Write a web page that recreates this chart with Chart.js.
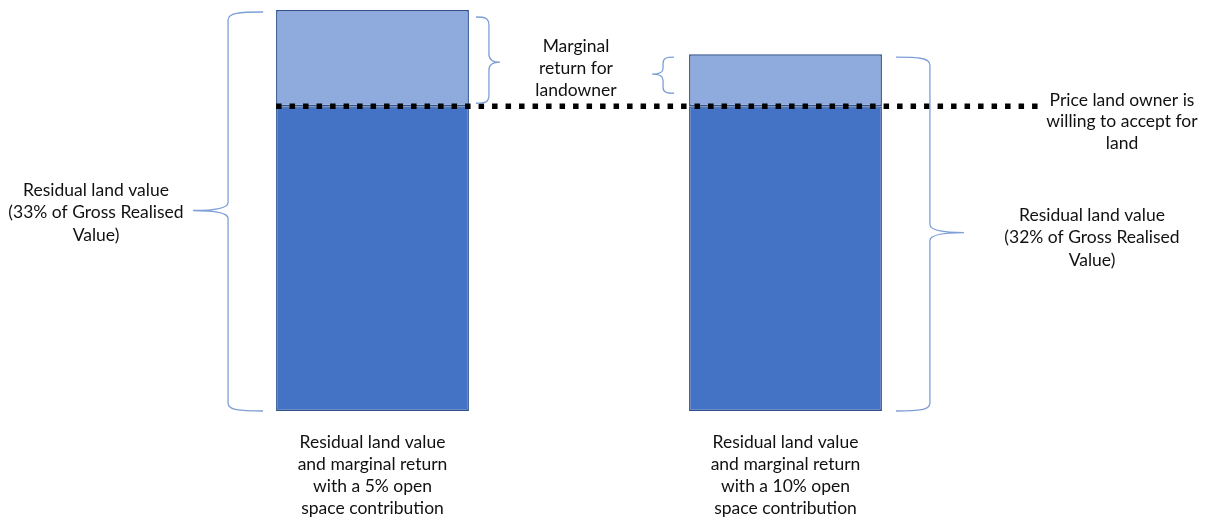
<!DOCTYPE html>
<html>
<head>
<meta charset="utf-8">
<script src="https://cdn.jsdelivr.net/npm/chart.js@4"></script>
<style>
  html, body { margin: 0; padding: 0; background: #fff; }
  #wrap { width: 1212px; height: 517px; }
</style>
</head>
<body>
<div id="wrap"><canvas id="landChart" width="1212" height="517"></canvas></div>
<script>
// schematic values (arbitrary units)
const categories = [
  ["Residual land value", "and marginal return", "with a 5% open", "space contribution"],
  ["Residual land value", "and marginal return", "with a 10% open", "space contribution"]
];
const acceptPrice = [76, 76];      // price land owner is willing to accept
const marginalReturn = [24, 13];   // marginal return for landowner
const priceLevel = 76;

const BRACE = "#7f9fd8";
const FONT = "17.5px Lato, 'Open Sans', sans-serif";

function drawBrace(ctx, x, y1, y2, ym, dir, tip, curl) {
  // dir: -1 tip points left, +1 tip points right
  const r = Math.min(8, (y2 - y1) / 6);
  ctx.beginPath();
  ctx.moveTo(x - dir * curl, y1);
  ctx.bezierCurveTo(x - dir * curl * 0.3, y1, x, y1 + 1, x, y1 + r);
  ctx.lineTo(x, ym - r);
  ctx.quadraticCurveTo(x, ym, x + dir * tip, ym);
  ctx.quadraticCurveTo(x, ym, x, ym + r);
  ctx.lineTo(x, y2 - r);
  ctx.bezierCurveTo(x, y2 - 1, x - dir * curl * 0.3, y2, x - dir * curl, y2);
  ctx.stroke();
}

function drawLines(ctx, lines, cx, y0, lh) {
  lines.forEach((t, i) => ctx.fillText(t, cx, y0 + i * lh));
}

const annotations = {
  id: "annotations",
  afterDatasetsDraw(chart) {
    const ctx = chart.ctx;
    const xs = chart.scales.x, ys = chart.scales.y;
    const bars = chart.getDatasetMeta(1).data;
    const yPrice = ys.getPixelForValue(priceLevel);
    const y0 = ys.getPixelForValue(0);
    const left1 = bars[0].x - bars[0].width / 2;
    const right1 = bars[0].x + bars[0].width / 2;
    const left2 = bars[1].x - bars[1].width / 2;
    const right2 = bars[1].x + bars[1].width / 2;

    ctx.save();
    // dotted price line
    ctx.strokeStyle = "#000";
    ctx.lineWidth = 5.5;
    ctx.setLineDash([5.5, 8]);
    ctx.beginPath();
    ctx.moveTo(left1, yPrice);
    ctx.lineTo(1040, yPrice);
    ctx.stroke();
    ctx.setLineDash([]);

    // braces
    ctx.strokeStyle = BRACE;
    ctx.lineWidth = 1.3;
    const top1 = bars[0].y, top2 = bars[1].y;
    drawBrace(ctx, left1 - 48, top1 + 2, y0, (top1 + y0) / 2, -1, 35, 35);
    drawBrace(ctx, right1 + 20, top1 + 7, yPrice - 3, (top1 + yPrice) / 2 + 4, 1, 11, 13);
    drawBrace(ctx, left2 - 26, top2 + 3, yPrice - 13, (top2 + yPrice) / 2 - 6, -1, 11, 11);
    drawBrace(ctx, right2 + 48, top2 + 3, y0, (top2 + y0) / 2, 1, 34, 34);

    // texts
    ctx.fillStyle = "#111";
    ctx.font = FONT;
    ctx.textAlign = "center";
    ctx.textBaseline = "middle";
    categories.forEach((lines, i) => drawLines(ctx, lines, xs.getPixelForValue(i), y0 + 31, 22));
    drawLines(ctx, ["Residual land value", "(33% of Gross Realised", "Value)"], 96, 190, 22.5);
    drawLines(ctx, ["Marginal", "return for", "landowner"], 576, 46, 22);
    drawLines(ctx, ["Price land owner is", "willing to accept for", "land"], 1122, 100, 21.5);
    drawLines(ctx, ["Residual land value", "(32% of Gross Realised", "Value)"], 1092, 215, 22.5);
    ctx.restore();
  }
};

new Chart(document.getElementById("landChart"), {
  type: "bar",
  data: {
    labels: categories,
    datasets: [
      {
        label: "Price land owner is willing to accept",
        data: acceptPrice,
        backgroundColor: "#4472c4",
        borderColor: "#2f528f",
        borderWidth: 1.5,
        borderSkipped: false,
        barPercentage: 0.467,
        categoryPercentage: 1
      },
      {
        label: "Marginal return for landowner",
        data: marginalReturn,
        backgroundColor: "#8faadc",
        borderColor: "#2f528f",
        borderWidth: 1.5,
        borderSkipped: false,
        barPercentage: 0.467,
        categoryPercentage: 1
      }
    ]
  },
  options: {
    responsive: false,
    animation: false,
    layout: { padding: { left: 166, right: 220, top: 0, bottom: 106 } },
    plugins: { legend: { display: false }, tooltip: { enabled: false } },
    scales: {
      x: { stacked: true, display: false },
      y: { stacked: true, display: false, min: 0, max: 102.5 }
    }
  },
  plugins: [annotations]
});
</script>
</body>
</html>
